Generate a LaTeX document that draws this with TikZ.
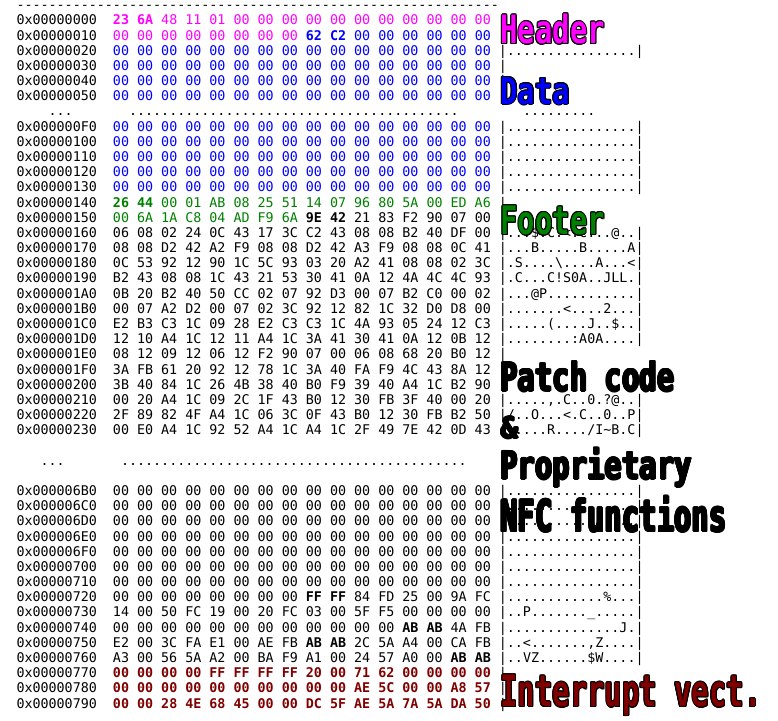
\documentclass[tikz,border=0pt]{standalone}
\usepackage{fontspec}
\usepackage{graphicx}
\newfontfamily\hexfam{DejaVu Sans Mono}
\definecolor{hmag}{RGB}{255,0,255}
\definecolor{hblue}{RGB}{0,0,255}
\definecolor{hgreen}{RGB}{0,128,0}
\definecolor{hred}{RGB}{128,0,0}
\newcommand\hM[1]{\textcolor{hmag}{#1}}
\newcommand\hMb[1]{\textcolor{hmag}{\bfseries #1}}
\newcommand\hB[1]{\textcolor{hblue}{#1}}
\newcommand\hBb[1]{\textcolor{hblue}{\bfseries #1}}
\newcommand\hG[1]{\textcolor{hgreen}{#1}}
\newcommand\hGb[1]{\textcolor{hgreen}{\bfseries #1}}
\newcommand\hK[1]{{\bfseries #1}}
\newcommand\hR[1]{\textcolor{hred}{\bfseries #1}}
\newcommand\hexzeros{00 00 00 00 00 00 00 00 00 00 00 00 00 00 00 00}
\newcommand\asciidots{................}
\newcommand\hyphrun{\foreach \hh in {1,...,60}{-\kern0pt}}
\newcommand\labfont{\hexfam\bfseries\fontsize{28.9}{32}\selectfont}
\newcommand\tall[2]{\scalebox{1}[#1]{#2}}
\tikzset{
  hx/.style={inner sep=0pt, outer sep=0pt, anchor=base west, font=\hexfam\fontsize{13.354}{15.18}\selectfont},
  lab/.style={inner sep=0pt, outer sep=0pt, anchor=base west, font=\labfont}
}
\newcommand\outl[5]{%
  \foreach \aa in {0,30,...,330}{%
    \node[lab,text=black,xshift={1.0*cos(\aa)},yshift={1.0*sin(\aa)}] (#1o\aa) at (#2,#3) {#5};}%
  \node[lab,text=#4] (#1) at (#2,#3) {#5};}
\begin{document}
\begin{tikzpicture}[x=1pt,y=-1pt]
\useasboundingbox (0,0) rectangle (778,720);
\fill[white] (0,0) rectangle (778,720);
% top rule
\node[hx] (l0) at (16.5,9.72) {\hyphrun};
% header / data
\node[hx] (l1) at (16.5,24.9) {0x00000000~~\hMb{23 6A} \hM{48 11 01 00 00 00 00 00 00 00 00 00 00 00} |};
\node[hx] (l2) at (16.5,40.08) {0x00000010~~\hM{00 00 00 00 00 00 00 00} \hBb{62 C2} \hB{00 00 00 00 00 00} |};
\node[hx] (l3) at (16.5,55.26) {0x00000020~~\hB{\hexzeros} |\asciidots|};
\node[hx] (l4) at (16.5,70.44) {0x00000030~~\hB{\hexzeros} |};
\node[hx] (l5) at (16.5,85.62) {0x00000040~~\hB{\hexzeros} |};
\node[hx] (l6) at (16.5,100.8) {0x00000050~~\hB{\hexzeros} |};
% gap
\node[hx] (l7a) at (48.66,115.98) {...};
\node[hx] (l7b) at (129.06,115.98) {.........................................};
\node[hx] (l7c) at (523.02,115.98) {.........};
\node[hx] (l8) at (16.5,131.16) {0x000000F0~~\hB{\hexzeros} |\asciidots|};
\node[hx] (l9) at (16.5,146.34) {0x00000100~~\hB{\hexzeros} |\asciidots|};
\node[hx] (l10) at (16.5,161.52) {0x00000110~~\hB{\hexzeros} |\asciidots|};
\node[hx] (l11) at (16.5,176.7) {0x00000120~~\hB{\hexzeros} |\asciidots|};
\node[hx] (l12) at (16.5,191.88) {0x00000130~~\hB{\hexzeros} |\asciidots|};
% footer
\node[hx] (l13) at (16.5,207.06) {0x00000140~~\hGb{26 44} \hG{00 01 AB 08 25 51 14 07 96 80 5A 00 ED A6} |};
\node[hx] (l14) at (16.5,222.24) {0x00000150~~\hG{00 6A 1A C8 04 AD F9 6A} \hK{9E 42} 21 83 F2 90 07 00 |};
% patch code
\node[hx] (l15) at (16.5,237.42) {0x00000160~~06 08 02 24 0C 43 17 3C C2 43 08 08 B2 40 DF 00 |...\$.C.<.C...@..|};
\node[hx] (l16) at (16.5,252.6) {0x00000170~~08 08 D2 42 A2 F9 08 08 D2 42 A3 F9 08 08 0C 41 |...B.....B.....A|};
\node[hx] (l17) at (16.5,267.78) {0x00000180~~0C 53 92 12 90 1C 5C 93 03 20 A2 41 08 08 02 3C |.S....\textbackslash....A...<|};
\node[hx] (l18) at (16.5,282.96) {0x00000190~~B2 43 08 08 1C 43 21 53 30 41 0A 12 4A 4C 4C 93 |.C...C!S0A..JLL.|};
\node[hx] (l19) at (16.5,298.14) {0x000001A0~~0B 20 B2 40 50 CC 02 07 92 D3 00 07 B2 C0 00 02 |...@P...........|};
\node[hx] (l20) at (16.5,313.32) {0x000001B0~~00 07 A2 D2 00 07 02 3C 92 12 82 1C 32 D0 D8 00 |.......<....2...|};
\node[hx] (l21) at (16.5,328.5) {0x000001C0~~E2 B3 C3 1C 09 28 E2 C3 C3 1C 4A 93 05 24 12 C3 |.....(....J..\$..|};
\node[hx] (l22) at (16.5,343.68) {0x000001D0~~12 10 A4 1C 12 11 A4 1C 3A 41 30 41 0A 12 0B 12 |........:A0A....|};
\node[hx] (l23) at (16.5,358.86) {0x000001E0~~08 12 09 12 06 12 F2 90 07 00 06 08 68 20 B0 12 |};
\node[hx] (l24) at (16.5,374.04) {0x000001F0~~3A FB 61 20 92 12 78 1C 3A 40 FA F9 4C 43 8A 12 |};
\node[hx] (l25) at (16.5,389.22) {0x00000200~~3B 40 84 1C 26 4B 38 40 B0 F9 39 40 A4 1C B2 90 |};
\node[hx] (l26) at (16.5,404.4) {0x00000210~~00 20 A4 1C 09 2C 1F 43 B0 12 30 FB 3F 40 00 20 |.....,.C..0.?@..|};
\node[hx] (l27) at (16.5,419.58) {0x00000220~~2F 89 82 4F A4 1C 06 3C 0F 43 B0 12 30 FB B2 50 |/..O...<.C..0..P|};
\node[hx] (l28) at (16.5,434.76) {0x00000230~~00 E0 A4 1C 92 52 A4 1C A4 1C 2F 49 7E 42 0D 43 |.....R..../I\textasciitilde B.C|};
% gap
\node[hx] (l30a) at (40.62,465.12) {...};
\node[hx] (l30b) at (121.02,465.12) {...........................................};
\node[hx] (l32) at (16.5,495.48) {0x000006B0~~\hexzeros{} |\asciidots|};
\node[hx] (l33) at (16.5,510.66) {0x000006C0~~\hexzeros{} |\asciidots|};
\node[hx] (l34) at (16.5,525.84) {0x000006D0~~\hexzeros{} |\asciidots|};
\node[hx] (l35) at (16.5,541.02) {0x000006E0~~\hexzeros{} |\asciidots|};
\node[hx] (l36) at (16.5,556.2) {0x000006F0~~\hexzeros{} |\asciidots|};
\node[hx] (l37) at (16.5,571.38) {0x00000700~~\hexzeros{} |\asciidots|};
\node[hx] (l38) at (16.5,586.56) {0x00000710~~\hexzeros{} |\asciidots|};
\node[hx] (l39) at (16.5,601.74) {0x00000720~~00 00 00 00 00 00 00 00 \hK{FF FF} 84 FD 25 00 9A FC |............\%...|};
\node[hx] (l40) at (16.5,616.92) {0x00000730~~14 00 50 FC 19 00 20 FC 03 00 5F F5 00 00 00 00 |..P.......\_.....|};
\node[hx] (l41) at (16.5,632.1) {0x00000740~~00 00 00 00 00 00 00 00 00 00 00 00 \hK{AB AB} 4A FB |..............J.|};
\node[hx] (l42) at (16.5,647.28) {0x00000750~~E2 00 3C FA E1 00 AE FB \hK{AB AB} 2C 5A A4 00 CA FB |..<.......,Z....|};
\node[hx] (l43) at (16.5,662.46) {0x00000760~~A3 00 56 5A A2 00 BA F9 A1 00 24 57 A0 00 \hK{AB AB} |..VZ......\$W....|};
% interrupt vectors
\node[hx] (l44) at (16.5,677.64) {0x00000770~~\hR{00 00 00 00 FF FF FF FF 20 00 71 62 00 00 00 00} |};
\node[hx] (l45) at (16.5,692.82) {0x00000780~~\hR{00 00 00 00 00 00 00 00 00 00 AE 5C 00 00 A8 57} |};
\node[hx] (l46) at (16.5,708.0) {0x00000790~~\hR{00 00 28 4E 68 45 00 00 DC 5F AE 5A 7A 5A DA 50} |};
% labels
\outl{hdr}{500.5}{43.5}{hmag}{\tall{1.35}{Header}}
\outl{dat}{500.5}{104}{hblue}{\tall{1.28}{Data}}
\outl{ftr}{500.5}{234.5}{hgreen}{\tall{1.36}{Footer}}
\outl{pat}{500.5}{391}{black}{\tall{1.36}{Patch code}}
\outl{amp}{500.5}{438}{black}{\&}
\outl{pro}{500.5}{479}{black}{\tall{1.33}{Proprietary}}
\outl{nfc}{500.5}{531.5}{black}{\tall{1.5}{NFC functions}}
\outl{irq}{500.5}{706.5}{hred}{\tall{1.5}{Interrupt vect.}}
\end{tikzpicture}
\end{document}
